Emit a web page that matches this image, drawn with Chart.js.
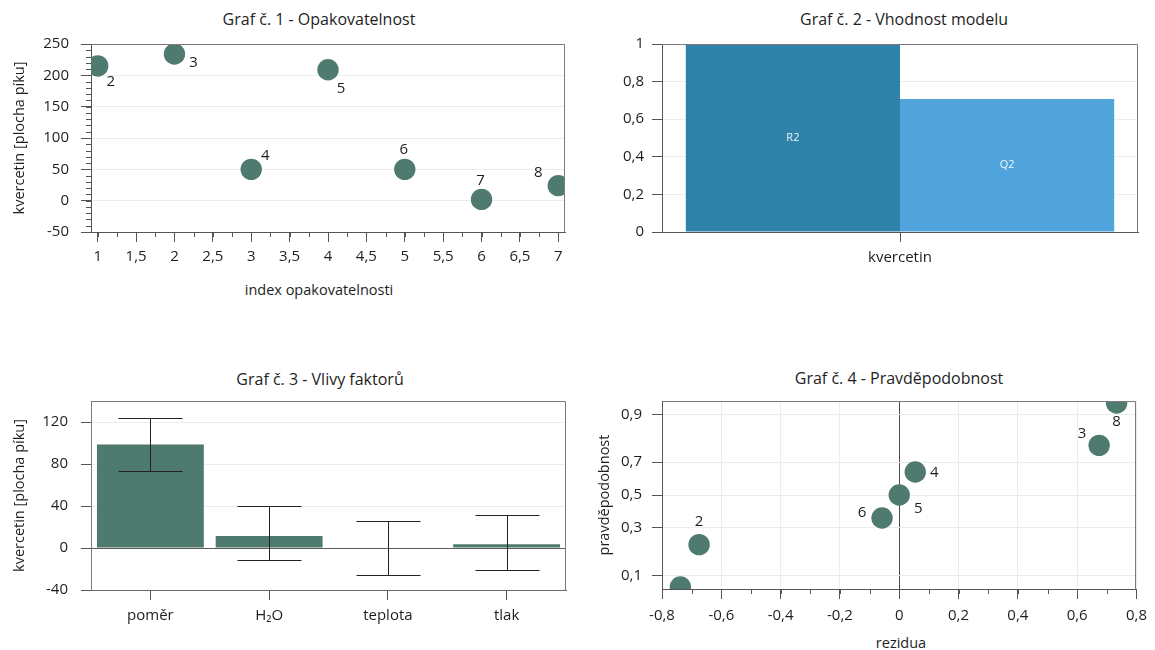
<!DOCTYPE html>
<html lang="cs">
<head>
<meta charset="utf-8">
<title>Kvercetin – grafy</title>
<script src="https://cdn.jsdelivr.net/npm/chart.js@4/dist/chart.umd.min.js"></script>
<style>
  body { margin: 0; width: 1155px; height: 650px; background: #fff; position: relative; overflow: hidden; }
  canvas { position: absolute; }
  .cap { position: absolute; width: 400px; height: 22px; line-height: 22px; text-align: center;
         font-family: 'Open Sans', sans-serif; color: #1e1e1e; white-space: nowrap; }
  .head { font-size: 16px; }
  .axis { font-size: 14.5px; }
</style>
</head>
<body>
<div class="cap head" style="left:119px; top:8px">Graf č. 1 - Opakovatelnost</div>
<div class="cap head" style="left:704px; top:8px">Graf č. 2 - Vhodnost modelu</div>
<div class="cap head" style="left:120px; top:368px">Graf č. 3 - Vlivy faktorů</div>
<div class="cap head" style="left:699px; top:367px">Graf č. 4 - Pravděpodobnost</div>
<div class="cap axis" style="left:119px; top:279px">index opakovatelnosti</div>
<div class="cap axis" style="left:701px; top:632px">rezidua</div>

<canvas id="repChart" width="580" height="300" style="left:0; top:0"></canvas>
<canvas id="fitChart" width="575" height="300" style="left:580px; top:0"></canvas>
<canvas id="factorChart" width="580" height="290" style="left:0; top:360px"></canvas>
<canvas id="probChart" width="575" height="290" style="left:580px; top:360px"></canvas>

<script>
// Graf 1 - opakovatelnost
const repIndex = [1, 2, 3, 4, 5, 6, 7];
const repArea = [215, 234, 50, 209, 50, 2, 24];
const repSample = ['2', '3', '4', '5', '6', '7', '8'];
const repTicks = [1, 1.5, 2, 2.5, 3, 3.5, 4, 4.5, 5, 5.5, 6, 6.5, 7];

// Graf 2 - vhodnost modelu
const fitCategory = ['kvercetin'];
const fitNames = ['R2', 'Q2'];
const fitValues = [1, 0.707];

// Graf 3 - vlivy faktorů (efekt a interval)
const factorNames = ['poměr', 'H₂O', 'teplota', 'tlak'];
const factorEffect = [98.5, 11.4, 0.5, 3.5];
const factorLow = [73, -11.7, -25.6, -20.6];
const factorHigh = [124, 40, 25.6, 31.4];
const factorTicks = [-40, 0, 40, 80, 120];

// Graf 4 - normální pravděpodobnostní graf reziduí
const residuals = [-0.738, -0.675, -0.058, 0, 0.054, 0.674, 0.733];
const probability = [0.071, 0.214, 0.357, 0.5, 0.643, 0.786, 0.929];
const residSample = ['7', '2', '6', '5', '4', '3', '8'];
const residTicks = [-0.8, -0.6, -0.4, -0.2, 0, 0.2, 0.4, 0.6, 0.8];
const probTicks = [0.1, 0.3, 0.5, 0.7, 0.9];

// label placement next to the points
const repShift = [[13, 16], [19, 9], [14, -14], [13, 19], [-1, -20], [-1, -19], [-20, -13]];
const residShift = [[0, 20], [0, -23], [-20, -5], [19, 14], [19, 1], [-17, -12], [0, 19]];

const FONT = "'Open Sans', sans-serif";
const INK = '#1e1e1e';
const GREEN = '#4f7a6f';
const GRID = '#ececec';
const AXIS = '#555';

Chart.defaults.font.family = FONT;
Chart.defaults.font.size = 15;
Chart.defaults.color = INK;
Chart.defaults.animation = false;
Chart.defaults.events = [];
Chart.defaults.responsive = false;
Chart.defaults.plugins.legend.display = false;
Chart.defaults.plugins.tooltip.enabled = false;

const comma = v => String(+(+v).toFixed(2)).replace('.', ',');
const fixTicks = list => scale => { scale.ticks = list.map(v => ({ value: v })); };

// inverse of the standard normal CDF (Acklam)
function probit(p) {
  const a = [-39.69683028665376, 220.9460984245205, -275.9285104469687, 138.3577518672690, -30.66479806614716, 2.506628277459239];
  const b = [-54.47609879822406, 161.5858368580409, -155.6989798598866, 66.80131188771972, -13.28068155288572];
  const c = [-0.007784894002430293, -0.3223964580411365, -2.400758277161838, -2.549732539343734, 4.374664141464968, 2.938163982698783];
  const d = [0.007784695709041462, 0.3224671290700398, 2.445134137142996, 3.754408661907416];
  const lo = 0.02425;
  let q, r;
  if (p < lo) {
    q = Math.sqrt(-2 * Math.log(p));
    return (((((c[0] * q + c[1]) * q + c[2]) * q + c[3]) * q + c[4]) * q + c[5]) / ((((d[0] * q + d[1]) * q + d[2]) * q + d[3]) * q + 1);
  }
  if (p > 1 - lo) {
    q = Math.sqrt(-2 * Math.log(1 - p));
    return -(((((c[0] * q + c[1]) * q + c[2]) * q + c[3]) * q + c[4]) * q + c[5]) / ((((d[0] * q + d[1]) * q + d[2]) * q + d[3]) * q + 1);
  }
  q = p - 0.5; r = q * q;
  return (((((a[0] * r + a[1]) * r + a[2]) * r + a[3]) * r + a[4]) * r + a[5]) * q / (((((b[0] * r + b[1]) * r + b[2]) * r + b[3]) * r + b[4]) * r + 1);
}
function normCdf(z) {
  // Zelen & Severo
  const t = 1 / (1 + 0.2316419 * Math.abs(z));
  const y = 0.3989423 * Math.exp(-z * z / 2) * t * (0.3193815 + t * (-0.3565638 + t * (1.781478 + t * (-1.821256 + t * 1.330274))));
  return z > 0 ? 1 - y : y;
}

// probability axis: linear in probit(p)
class ProbitScale extends Chart.LinearScale {
  static id = 'probit';
  static defaults = Chart.LinearScale.defaults;
  buildTicks() { return probTicks.map(v => ({ value: v })); }
  getPixelForValue(v) {
    const lo = probit(this.min), hi = probit(this.max);
    return this.getPixelForDecimal((probit(v) - lo) / (hi - lo));
  }
  getValueForPixel(px) {
    const lo = probit(this.min), hi = probit(this.max);
    return normCdf(lo + this.getDecimalForPixel(px) * (hi - lo));
  }
}
Chart.register(ProbitScale);

// top and right edge of the plot box
const frame = {
  id: 'frame',
  afterDatasetsDraw(chart) {
    const { ctx, chartArea: a } = chart;
    const l = Math.round(a.left) + 0.5, t = Math.round(a.top) + 0.5;
    const r = Math.round(a.right) - 0.5, b = Math.round(a.bottom) + 0.5;
    ctx.save();
    ctx.strokeStyle = '#7a7a7a';
    ctx.lineWidth = 1;
    ctx.beginPath();
    ctx.moveTo(l, t); ctx.lineTo(r, t); ctx.lineTo(r, b);
    ctx.stroke();
    ctx.restore();
  }
};

// short unlabelled ticks between the main ones
const minorTicks = {
  id: 'minorTicks',
  afterDraw(chart, args, opts) {
    const { ctx } = chart;
    ctx.save();
    ctx.strokeStyle = AXIS;
    ctx.lineWidth = 1;
    ctx.beginPath();
    ['x', 'y'].forEach(id => {
      const step = opts[id];
      if (!step) return;
      const s = chart.scales[id];
      for (let v = Math.ceil(s.min / step - 1e-6) * step; v <= s.max + 1e-9; v += step) {
        const p = Math.round(s.getPixelForValue(v)) + 0.5;
        if (id === 'x') { ctx.moveTo(p, s.top); ctx.lineTo(p, s.top + 5); }
        else { ctx.moveTo(s.right - 5, p); ctx.lineTo(s.right, p); }
      }
    });
    ctx.stroke();
    ctx.restore();
  }
};

// sample numbers beside the points
const pointLabels = {
  id: 'pointLabels',
  afterDatasetsDraw(chart, args, opts) {
    const { ctx, chartArea: a } = chart;
    const pts = chart.getDatasetMeta(0).data;
    ctx.save();
    ctx.beginPath();
    ctx.rect(a.left, a.top, a.right - a.left, a.bottom - a.top);
    ctx.clip();
    ctx.font = `15px ${FONT}`;
    ctx.fillStyle = INK;
    ctx.textAlign = 'center';
    ctx.textBaseline = 'middle';
    pts.forEach((p, i) => {
      const [dx, dy] = opts.shift[i];
      ctx.fillText(opts.text[i], p.x + dx, p.y + dy);
    });
    ctx.restore();
  }
};

// interval whiskers on the factor bars
const errorBars = {
  id: 'errorBars',
  afterDatasetsDraw(chart, args, opts) {
    const { ctx } = chart;
    const y = chart.scales.y;
    ctx.save();
    ctx.strokeStyle = '#222';
    ctx.lineWidth = 1;
    ctx.beginPath();
    chart.getDatasetMeta(0).data.forEach((bar, i) => {
      const x = Math.round(bar.x) + 0.5;
      const hw = Math.round(bar.width * 0.3);
      const top = Math.round(y.getPixelForValue(opts.high[i])) + 0.5;
      const bot = Math.round(y.getPixelForValue(opts.low[i])) + 0.5;
      ctx.moveTo(x, top); ctx.lineTo(x, bot);
      ctx.moveTo(x - hw, top); ctx.lineTo(x + hw, top);
      ctx.moveTo(x - hw, bot); ctx.lineTo(x + hw, bot);
    });
    ctx.stroke();
    ctx.restore();
  }
};

// series name written inside each bar
const barNames = {
  id: 'barNames',
  afterDatasetsDraw(chart) {
    const { ctx } = chart;
    ctx.save();
    ctx.font = `11px ${FONT}`;
    ctx.fillStyle = 'rgba(255,255,255,0.92)';
    ctx.textAlign = 'center';
    ctx.textBaseline = 'middle';
    chart.data.datasets.forEach((ds, i) => {
      const bar = chart.getDatasetMeta(i).data[0];
      ctx.fillText(ds.label, bar.x, (bar.y + bar.base) / 2);
    });
    ctx.restore();
  }
};

const yTitle = (text, pad) => ({ display: true, text, font: { size: 14.5 }, padding: { top: pad, bottom: 0 } });

new Chart(document.getElementById('repChart'), {
  type: 'scatter',
  data: {
    datasets: [{
      data: repIndex.map((x, i) => ({ x, y: repArea[i] })),
      backgroundColor: GREEN,
      borderWidth: 0,
      pointRadius: 10.7,
      clip: 0
    }]
  },
  options: {
    layout: { padding: { top: 44, right: 15, left: 0, bottom: 0 } },
    scales: {
      x: {
        type: 'linear', min: 0.913, max: 7.087,
        afterBuildTicks: fixTicks(repTicks),
        afterFit: s => { s.height = 68; },
        ticks: { callback: comma, padding: 6, maxRotation: 0 },
        grid: { drawOnChartArea: false, tickLength: 10, tickColor: AXIS },
        border: { color: AXIS }
      },
      y: {
        min: -50, max: 250,
        ticks: { stepSize: 50, padding: 12 },
        afterFit: s => { s.width = 91; },
        grid: { color: GRID, tickLength: 10, tickColor: AXIS },
        border: { color: AXIS },
        title: yTitle('kvercetin [plocha píku]', 11.5)
      }
    },
    plugins: {
      minorTicks: { x: 0.25, y: 10 },
      pointLabels: { text: repSample, shift: repShift }
    }
  },
  plugins: [frame, minorTicks, pointLabels]
});

new Chart(document.getElementById('fitChart'), {
  type: 'bar',
  data: {
    labels: fitCategory,
    datasets: [
      { label: fitNames[0], data: [fitValues[0]], backgroundColor: '#2f82a8' },
      { label: fitNames[1], data: [fitValues[1]], backgroundColor: '#50a4db' }
    ]
  },
  options: {
    layout: { padding: { top: 44, right: 17, left: 0, bottom: 0 } },
    datasets: { bar: { categoryPercentage: 0.9, barPercentage: 1 } },
    scales: {
      x: {
        afterFit: s => { s.height = 68; },
        ticks: { padding: 7 },
        grid: { offset: false, drawOnChartArea: false, tickLength: 10, tickColor: AXIS },
        border: { color: AXIS }
      },
      y: {
        min: 0, max: 1,
        ticks: { stepSize: 0.2, padding: 8, callback: comma },
        afterFit: s => { s.width = 82; },
        grid: { color: GRID, tickLength: 10, tickColor: AXIS },
        border: { color: AXIS }
      }
    }
  },
  plugins: [frame, barNames]
});

new Chart(document.getElementById('factorChart'), {
  type: 'bar',
  data: {
    labels: factorNames,
    datasets: [{ data: factorEffect, backgroundColor: GREEN }]
  },
  options: {
    layout: { padding: { top: 41, right: 14, left: 0, bottom: 0 } },
    datasets: { bar: { categoryPercentage: 0.9, barPercentage: 1 } },
    scales: {
      x: {
        afterFit: s => { s.height = 60; },
        ticks: { padding: 7 },
        grid: { offset: false, drawOnChartArea: false, tickLength: 10, tickColor: AXIS },
        border: { color: '#6a6a6a' }
      },
      y: {
        min: -40, max: 140,
        afterBuildTicks: fixTicks(factorTicks),
        ticks: { padding: 13 },
        afterFit: s => { s.width = 91; },
        grid: { color: c => c.tick && c.tick.value === 0 ? '#5a5a5a' : GRID, tickLength: 10, tickColor: AXIS },
        border: { color: '#7a7a7a' },
        title: yTitle('kvercetin [plocha píku]', 11.5)
      }
    },
    plugins: {
      errorBars: { low: factorLow, high: factorHigh }
    }
  },
  plugins: [frame, errorBars]
});

new Chart(document.getElementById('probChart'), {
  type: 'scatter',
  data: {
    datasets: [{
      data: residuals.map((x, i) => ({ x, y: probability[i] })),
      backgroundColor: GREEN,
      borderWidth: 0,
      pointRadius: 10.7,
      clip: 0
    }]
  },
  options: {
    layout: { padding: { top: 41, right: 18, left: 0, bottom: 0 } },
    scales: {
      x: {
        type: 'linear', min: -0.8, max: 0.8,
        afterBuildTicks: fixTicks(residTicks),
        afterFit: s => { s.height = 61; },
        ticks: { callback: comma, padding: 8, maxRotation: 0 },
        grid: { color: c => c.tick && c.tick.value === 0 ? '#4a4a4a' : GRID, tickLength: 10, tickColor: AXIS },
        border: { color: AXIS }
      },
      y: {
        type: 'probit', min: 0.0668, max: 0.9332,
        ticks: { callback: comma, padding: 10 },
        afterFit: s => { s.width = 82; },
        grid: { color: GRID, tickLength: 10, tickColor: AXIS },
        border: { color: AXIS },
        title: yTitle('pravděpodobnost', 16)
      }
    },
    plugins: {
      minorTicks: { x: 0.1 },
      pointLabels: { text: residSample, shift: residShift }
    }
  },
  plugins: [frame, minorTicks, pointLabels]
});
</script>
</body>
</html>
